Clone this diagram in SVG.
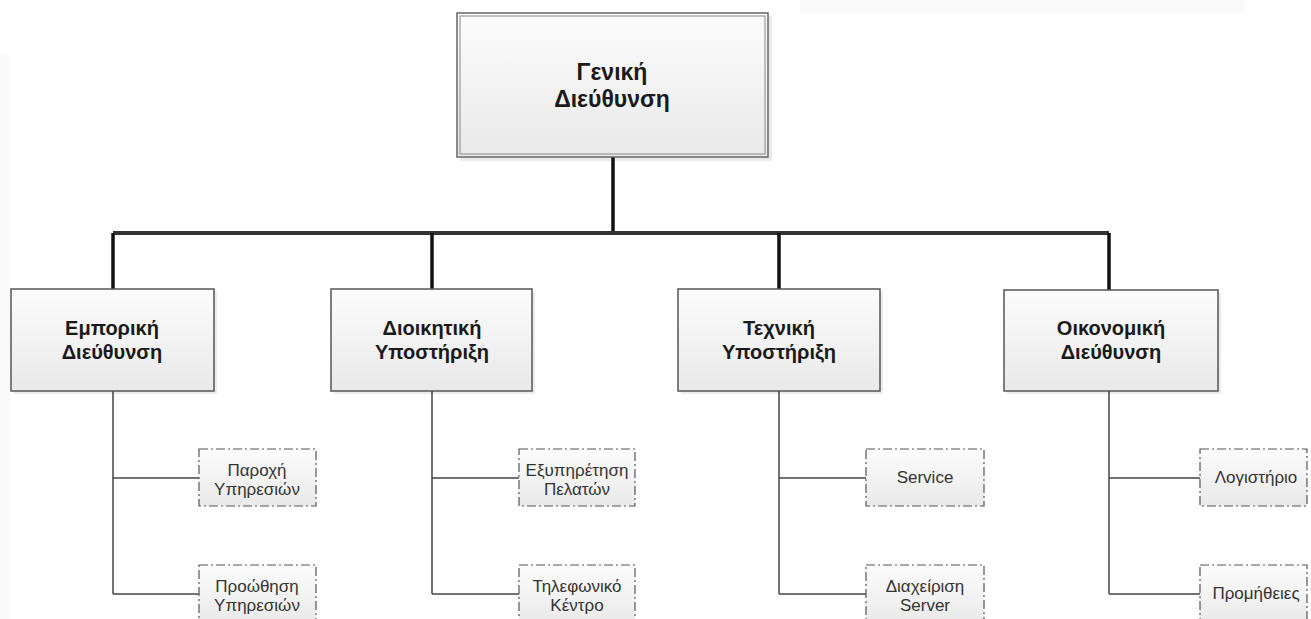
<svg xmlns="http://www.w3.org/2000/svg" width="1311" height="619" viewBox="0 0 1311 619">
<style>
.t1{font-family:"Liberation Sans",Arial,sans-serif;font-weight:bold;font-size:23px;fill:#1a1a1a;text-anchor:middle}
.t2{font-family:"Liberation Sans",Arial,sans-serif;font-weight:bold;font-size:20px;fill:#1a1a1a;text-anchor:middle}
.t3{font-family:"Liberation Sans",Arial,sans-serif;font-size:17px;fill:#333;text-anchor:middle}
.box{fill:url(#g);stroke:#555;stroke-width:1.5}
.sub{fill:url(#g);stroke:#555;stroke-width:1.2;stroke-dasharray:9 3 2 3}
.sh{fill:#000;opacity:0.08}
.thick{stroke:#111;stroke-width:3.5;fill:none}
.bus{stroke:#333;stroke-width:4;fill:none}
.thin{stroke:#444;stroke-width:1.5;fill:none}
</style>
<defs>
<linearGradient id="g" x1="0" y1="0" x2="0" y2="1">
<stop offset="0" stop-color="#fcfcfc"/>
<stop offset="1" stop-color="#e9e9e9"/>
</linearGradient>
</defs>
<rect x="0" y="0" width="1311" height="619" fill="#fff"/>
<rect x="800" y="0" width="445" height="13" fill="#fafafa"/>
<rect x="0" y="55" width="10" height="564" fill="#f9f9f9"/>

<g id="connectors">
<path class="thick" d="M613 157 V233"/>
<path class="bus" d="M113 233 H1109"/>
<path class="thick" d="M113 233 V289 M432 233 V289 M779 233 V289 M1109 233 V290"/>
<path class="thin" d="M113 391 V594 M113 478 H199 M113 594 H199"/>
<path class="thin" d="M432 391 V594 M432 478 H519 M432 594 H519"/>
<path class="thin" d="M779 391 V594 M779 478 H866 M779 594 H866"/>
<path class="thin" d="M1109 391 V594 M1109 478 H1200 M1109 594 H1200"/>
</g>

<g id="n-geniki">
<rect class="sh" x="460" y="16" width="312" height="145"/>
<rect x="457" y="13" width="311" height="144" fill="url(#g)" stroke="#666" stroke-width="1.5"/>
<rect x="460" y="16" width="305" height="138" fill="none" stroke="#888" stroke-width="1"/>
<text class="t1" x="612" y="80">Γενική</text>
<text class="t1" x="612" y="107">Διεύθυνση</text>
</g>

<g id="n-emporiki">
<rect class="sh" x="14" y="292" width="203" height="102"/>
<rect class="box" x="11" y="289" width="203" height="102"/>
<text class="t2" x="112" y="335">Εμπορική</text>
<text class="t2" x="112" y="359">Διεύθυνση</text>
</g>

<g id="n-dioikitiki">
<rect class="sh" x="334" y="292" width="201" height="102"/>
<rect class="box" x="331" y="289" width="201" height="102"/>
<text class="t2" x="432" y="335">Διοικητική</text>
<text class="t2" x="432" y="359">Υποστήριξη</text>
</g>

<g id="n-texniki">
<rect class="sh" x="681" y="292" width="202" height="102"/>
<rect class="box" x="678" y="289" width="202" height="102"/>
<text class="t2" x="779" y="335">Τεχνική</text>
<text class="t2" x="779" y="359">Υποστήριξη</text>
</g>

<g id="n-oikonomiki">
<rect class="sh" x="1007" y="293" width="214" height="101"/>
<rect class="box" x="1004" y="290" width="214" height="101"/>
<text class="t2" x="1111" y="335">Οικονομική</text>
<text class="t2" x="1111" y="359">Διεύθυνση</text>
</g>

<g id="n-paroxi">
<rect class="sub" x="199" y="449" width="117" height="57"/>
<text class="t3" x="257" y="476">Παροχή</text>
<text class="t3" x="257" y="495">Υπηρεσιών</text>
</g>
<g id="n-proothisi">
<rect class="sub" x="199" y="565" width="117" height="60"/>
<text class="t3" x="257" y="592">Προώθηση</text>
<text class="t3" x="257" y="611">Υπηρεσιών</text>
</g>

<g id="n-exypiretisi">
<rect class="sub" x="519" y="449" width="116" height="57"/>
<text class="t3" x="577" y="476">Εξυπηρέτηση</text>
<text class="t3" x="577" y="495">Πελατών</text>
</g>
<g id="n-tilefoniko">
<rect class="sub" x="519" y="565" width="116" height="60"/>
<text class="t3" x="577" y="592">Τηλεφωνικό</text>
<text class="t3" x="577" y="611">Κέντρο</text>
</g>

<g id="n-service">
<rect class="sub" x="866" y="449" width="118" height="57"/>
<text class="t3" x="925" y="483">Service</text>
</g>
<g id="n-server">
<rect class="sub" x="866" y="565" width="118" height="60"/>
<text class="t3" x="925" y="592">Διαχείριση</text>
<text class="t3" x="925" y="611">Server</text>
</g>

<g id="n-logistirio">
<rect class="sub" x="1200" y="449" width="107" height="57"/>
<text class="t3" x="1256" y="483">Λογιστήριο</text>
</g>
<g id="n-promitheies">
<rect class="sub" x="1200" y="565" width="107" height="60"/>
<text class="t3" x="1256" y="599">Προμήθειες</text>
</g>
</svg>
